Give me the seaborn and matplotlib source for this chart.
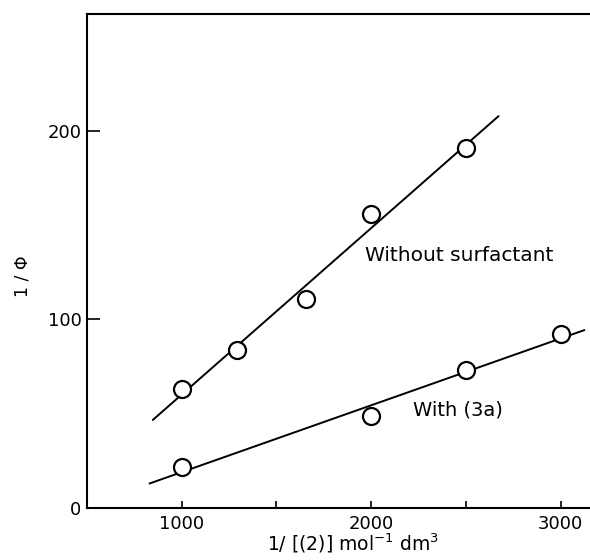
import numpy as np
import matplotlib
matplotlib.use("Agg")
import matplotlib.pyplot as plt
import seaborn as sns

# 1/[(2)] values and 1/phi
x_without = [1000, 1290, 1655, 2000, 2500]
y_without = [63, 84, 111, 156, 191]
x_with = [1000, 2000, 2500, 3000]
y_with = [21.5, 49, 73, 92]

# x extent over which each fitted line is drawn
fit_range_without = [847, 2672]
fit_range_with = [830, 3125]

sns.set_theme(style="white")
plt.rcParams["font.family"] = ["DejaVu Sans"]
plt.rcParams["text.color"] = "black"
plt.rcParams["axes.labelcolor"] = "black"
plt.rcParams["xtick.color"] = "black"
plt.rcParams["ytick.color"] = "black"

fig = plt.figure(figsize=(5.9, 5.6), dpi=100)
ax = fig.add_axes([0.1475, 0.093, 0.851, 0.882])

for xs, ys, rng in [(x_without, y_without, fit_range_without),
                    (x_with, y_with, fit_range_with)]:
    slope, icpt = np.polyfit(xs, ys, 1)
    lx = np.array(rng, dtype=float)
    sns.lineplot(x=lx, y=slope * lx + icpt, ax=ax, color="black", lw=1.4, zorder=2)
    sns.scatterplot(x=xs, y=ys, ax=ax, s=150, marker="o", facecolor="white",
                    edgecolor="black", linewidth=1.6, zorder=3)

ax.text(1968, 134, "Without surfactant", fontsize=14.5, va="center", ha="left")
ax.text(2222, 52, "With (3a)", fontsize=14, va="center", ha="left")

ax.set_xlim(500, 3150)
ax.set_ylim(0, 262)
ax.set_xticks([1000, 2000, 3000])
ax.set_xticks([1500, 2500], minor=True)
ax.set_yticks([0, 100, 200])
ax.tick_params(axis="x", which="both", direction="in", length=5, pad=5,
               labelsize=13, width=1.2, bottom=True)
ax.tick_params(axis="y", which="major", direction="in", length=9, pad=4,
               labelsize=13, width=1.2, left=True)
for sp in ax.spines.values():
    sp.set_color("black")
    sp.set_linewidth(1.5)
ax.spines["right"].set_visible(False)

ax.set_xlabel("1/ [(2)] mol$^{-1}$ dm$^{3}$", fontsize=13.5)
ax.set_ylabel("1 / \u03a6", fontsize=12.5)
ax.xaxis.set_label_coords(0.53, -0.047)
ax.yaxis.set_label_coords(-0.11, 0.47)

fig.savefig("out.png", dpi=100)
